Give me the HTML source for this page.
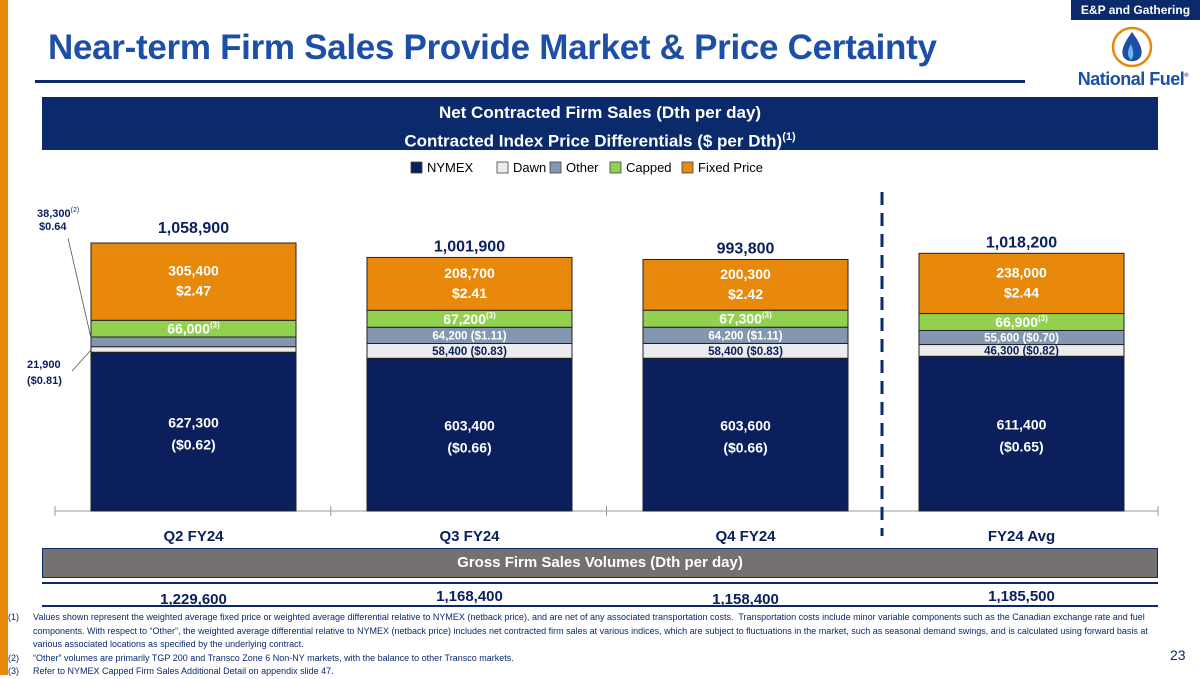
<!DOCTYPE html>
<html><head><meta charset="utf-8"><style>
body{margin:0;width:1200px;height:675px;overflow:hidden;background:#fff;font-family:"Liberation Sans",sans-serif;position:relative}
.abs{position:absolute}
</style></head><body>
<div class="abs" style="left:0;top:0;width:8px;height:675px;background:#e8890c"></div>
<div class="abs" style="left:1071px;top:0;width:129px;height:20px;background:#0a2a6b;color:#fff;font-weight:bold;font-size:12px;line-height:20px;text-align:center">E&amp;P and Gathering</div>
<div class="abs" style="left:48px;top:28px;font-size:35px;font-weight:bold;color:#1d4fa6;letter-spacing:-0.3px">Near-term Firm Sales Provide Market &amp; Price Certainty</div>
<div class="abs" style="left:35px;top:80px;width:990px;height:3px;background:#0a2a6b"></div>
<div class="abs" style="left:1070px;top:25px;width:130px;height:65px">
<svg width="130" height="65"><circle cx="62" cy="22" r="19" fill="#fff" stroke="#e8890c" stroke-width="2.5"/><path d="M62 7 C54 18 51 25 53 31 C56 38 68 38 71 31 C73 25 70 18 62 7Z" fill="#1d4fa6"/><path d="M61 19 C57 26 57 31 61 35 C64 32 64 26 61 19Z" fill="#6fb6e8"/>
<text x="63" y="60" text-anchor="middle" font-family="Liberation Sans" font-weight="bold" font-size="18" fill="#1d4fa6" letter-spacing="-0.5">National Fuel<tspan font-size="6" dy="-8">®</tspan></text></svg></div>
<div class="abs" style="left:42px;top:97px;width:1116px;height:53px;background:#0a2a6b;color:#fff;font-weight:bold;font-size:17px;text-align:center;line-height:24px;padding-top:4px;box-sizing:border-box">Net Contracted Firm Sales (Dth per day)<br>Contracted Index Price Differentials ($ per Dth)<sup style="font-size:11px">(1)</sup></div>
<svg class="abs" style="left:0;top:0" width="1200" height="675" id="chart"></svg>
<div class="abs" style="left:42px;top:548px;width:1114px;height:28px;background:#767171;border:1px solid #0a2a6b;color:#fff;font-weight:bold;font-size:15px;line-height:28px;text-align:center">Gross Firm Sales Volumes (Dth per day)</div>
<div class="abs" style="left:42px;top:582px;width:1116px;height:2px;background:#0a2a6b"></div>
<div class="abs" style="left:42px;top:605px;width:1116px;height:2px;background:#0a2a6b"></div>
<div class="abs" style="left:8px;top:611px;width:1160px;font-size:9px;color:#0a2a6b;line-height:13.5px">
<div style="display:flex"><span style="width:25px;flex:none">(1)</span><span>Values shown represent the weighted average fixed price or weighted average differential relative to NYMEX (netback price), and are net of any associated transportation costs.&nbsp; Transportation costs include minor variable components such as the Canadian exchange rate and fuel components. With respect to “Other”, the weighted average differential relative to NYMEX (netback price) includes net contracted firm sales at various indices, which are subject to fluctuations in the market, such as seasonal demand swings, and is calculated using forward basis at various associated locations as specified by the underlying contract.</span></div>
<div style="display:flex"><span style="width:25px;flex:none">(2)</span><span>“Other” volumes are primarily TGP 200 and Transco Zone 6 Non-NY markets, with the balance to other Transco markets.</span></div>
<div style="display:flex"><span style="width:25px;flex:none">(3)</span><span>Refer to NYMEX Capped Firm Sales Additional Detail on appendix slide 47.</span></div>
</div>
<div class="abs" style="left:1170px;top:647px;font-size:14px;color:#0a2a6b">23</div>
<script>
const categories=["Q2 FY24","Q3 FY24","Q4 FY24","FY24 Avg"];
const nymex=[627300,603400,603600,611400];
const dawn=[21900,58400,58400,46300];
const other=[38300,64200,64200,55600];
const capped=[66000,67200,67300,66900];
const fixed=[305400,208700,200300,238000];
const totals=["1,058,900","1,001,900","993,800","1,018,200"];
const nymexPrice=["($0.62)","($0.66)","($0.66)","($0.65)"];
const dawnPrice=["($0.81)","($0.83)","($0.83)","($0.82)"];
const otherPrice=["$0.64","($1.11)","($1.11)","($0.70)"];
const fixedPrice=["$2.47","$2.41","$2.42","$2.44"];
const gross=["1,229,600","1,168,400","1,158,400","1,185,500"];
const legendNames=["NYMEX","Dawn","Other","Capped","Fixed Price"];
const colors=["#0a1f5c","#ececec","#8497b0","#92d050","#e8890c"];
const svg=document.getElementById('chart');const NS="http://www.w3.org/2000/svg";
function el(t,a,txt){const e=document.createElementNS(NS,t);for(const k in a)e.setAttribute(k,a[k]);if(txt!==undefined)e.textContent=txt;svg.appendChild(e);return e;}
const base=511,scale=268/1058900,x0=91,step=276,bw=205;
const y=v=>base-v*scale; const xc=i=>x0+bw/2+i*step;
const fmt=v=>v.toLocaleString('en-US');
let lx=411;legendNames.forEach((n,i)=>{const r=el('rect',{x:lx,y:162,width:11,height:11,fill:colors[i],stroke:'#444','stroke-width':0.8});

const t=el('text',{x:lx+16,y:172,'font-size':13,fill:'#000'},n);
lx+=[86,53,60,72,0][i];});
const ax=el('line',{x1:55,y1:base,x2:1158,y2:base,stroke:'#999','stroke-width':1});
for(let i=0;i<5;i++){const t=el('line',{x1:55+i*275.75,y1:base-5,x2:55+i*275.75,y2:base+5,stroke:'#999'});}
const dl=el('line',{x1:882,y1:192,x2:882,y2:536,stroke:'#0a2a6b','stroke-width':3,'stroke-dasharray':'13,8'});
const series=[nymex,dawn,other,capped,fixed];
categories.forEach((c,i)=>{let cum=0;const x=x0+i*step;const segs=[];
series.forEach((s,k)=>{const y1=y(cum),y2=y(cum+s[i]);const r=el('rect',{x:x,y:y2,width:bw,height:y1-y2,fill:colors[k],stroke:'#222','stroke-width':1});
segs.push([y2,y1]);cum+=s[i];});
const cx=xc(i);
const T=(yy,txt,sz,fill,nm)=>{const t=el('text',{x:cx,y:yy,'text-anchor':'middle','font-size':sz,'font-weight':'bold',fill:fill});t.innerHTML=txt;return t;};
const nm=(segs[0][0]+segs[0][1])/2;T(nm-4,fmt(nymex[i]),14,'#fff','nymex-label');T(nm+18,nymexPrice[i],14,'#fff','nymex-price');
const fm=(segs[4][0]+segs[4][1])/2;T(fm-6,fmt(fixed[i]),14,'#fff','fixed-label');T(fm+14,fixedPrice[i],14,'#fff','fixed-price');
const cm=(segs[3][0]+segs[3][1])/2;T(cm+5,fmt(capped[i])+'<tspan font-size="8" dy="-6">(3)</tspan>',14,'#fff','capped-label');
if(i>0){const om=(segs[2][0]+segs[2][1])/2;T(om+4,fmt(other[i])+' '+otherPrice[i],11.5,'#fff','other-label');
const dm=(segs[1][0]+segs[1][1])/2;T(dm+4,fmt(dawn[i])+' '+dawnPrice[i],11.5,'#0a1f5c','dawn-label');}
T(segs[4][0]-(i==0?10:6),totals[i],16,'#0a1f5c','total-label');
const cl=el('text',{x:cx,y:541,'text-anchor':'middle','font-size':15,'font-weight':'bold',fill:'#0a1f5c'},c);
const g=el('text',{x:cx,y:[604,601,604,601][i],'text-anchor':'middle','font-size':15,'font-weight':'bold',fill:'#0a1f5c'},gross[i]);
});
const c1=el('line',{x1:68,y1:238,x2:91,y2:338,stroke:'#555','stroke-width':0.8});
const c2=el('line',{x1:72,y1:371,x2:91,y2:350,stroke:'#555','stroke-width':0.8});
const a1=el('text',{x:37,y:217,'font-size':11,'font-weight':'bold',fill:'#0a1f5c'});a1.innerHTML=fmt(other[0])+'<tspan font-size="7" dy="-5" font-weight="normal">(2)</tspan>';
const a2=el('text',{x:39,y:230,'font-size':11,'font-weight':'bold',fill:'#0a1f5c'},otherPrice[0]);
const b1=el('text',{x:27,y:368,'font-size':11,'font-weight':'bold',fill:'#0a1f5c'},fmt(dawn[0]));
const b2=el('text',{x:27,y:384,'font-size':11,'font-weight':'bold',fill:'#0a1f5c'},dawnPrice[0]);
</script>
</body></html>
